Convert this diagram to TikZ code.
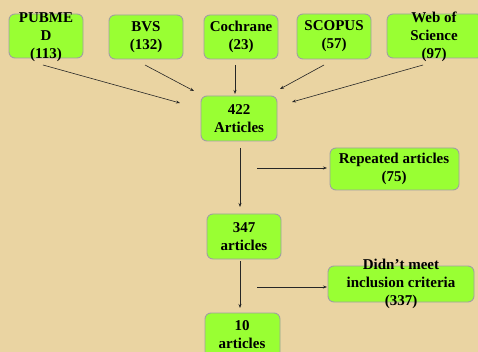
\documentclass[tikz,border=0pt]{standalone}
\usepackage{fontspec}
\setmainfont{Liberation Serif}
\usetikzlibrary{arrows.meta}
\definecolor{bg}{HTML}{EAD4A2}
\definecolor{boxgreen}{HTML}{99FF33}
\definecolor{boxline}{HTML}{A0A0A0}
\tikzset{
  box/.style={draw=boxline, fill=boxgreen, line width=0.9pt, rounded corners=6pt, inner sep=0pt},
  txt/.style={align=center, font=\fontsize{15}{18}\selectfont\bfseries, inner sep=0pt},
  arr/.style={-{Stealth[length=4pt,width=3pt]}, line width=0.6pt, black!85}
}
\begin{document}
\begin{tikzpicture}[x=1pt,y=-1pt]
\useasboundingbox (0,0) rectangle (478,352);
\clip (0,0) rectangle (478,352);
\fill[bg] (0,0) rectangle (478,352);
% boxes
\node[box, minimum width=74pt, minimum height=44pt] (pub) at (46,36) {};
\node[box, minimum width=74pt, minimum height=44pt] (bvs) at (146,37) {};
\node[box, minimum width=74pt, minimum height=44pt] (coch) at (241,37) {};
\node[box, minimum width=74pt, minimum height=45pt] (scop) at (334,36.5) {};
\node[box, minimum width=96pt, minimum height=44pt] (wos) at (435,36) {};
\node[box, minimum width=76pt, minimum height=45pt] (a422) at (239,118.5) {};
\node[box, minimum width=129pt, minimum height=42pt] (rep) at (394.5,169) {};
\node[box, minimum width=74pt, minimum height=45pt] (a347) at (244,236.5) {};
\node[box, minimum width=146pt, minimum height=36pt] (dnm) at (401,284) {};
\node[box, minimum width=75pt, minimum height=46pt] (a10) at (242.5,336) {};
% texts
\node[txt] (pubt) at (46,37.5) {PUBME\\D\\(113)};
\node[txt] (bvst) at (146,37) {BVS\\(132)};
\node[txt] (cocht) at (241,37) {Cochrane\\(23)};
\node[txt] (scopt) at (334,36) {SCOPUS\\(57)};
\node[txt] (wost) at (434,37) {Web of\\Science\\(97)};
\node[txt] (a422t) at (239,119) {422\\Articles};
\node[txt] (rept) at (394,169) {Repeated articles\\(75)};
\node[txt] (a347t) at (244,237) {347\\articles};
\node[txt] (dnmt) at (401,284) {Didn’t meet\\inclusion criteria\\(337)};
\node[txt] (a10t) at (242,335) {10\\articles};
% arrow end points
\coordinate (p1s) at (43,65);   \coordinate (p1e) at (180,103);
\coordinate (p2s) at (145,65);  \coordinate (p2e) at (194,91);
\coordinate (p3s) at (235,65);  \coordinate (p3e) at (235,94);
\coordinate (p4s) at (324,65);  \coordinate (p4e) at (280,89);
\coordinate (p5s) at (423,65);  \coordinate (p5e) at (292,102);
\coordinate (d1s) at (240,148); \coordinate (d1e) at (240,207);
\coordinate (r1s) at (257,168); \coordinate (r1e) at (327,168);
\coordinate (d2s) at (240,261); \coordinate (d2e) at (240,308);
\coordinate (r2s) at (257,287); \coordinate (r2e) at (327,287);
\draw[arr] (p1s) -- (p1e);
\draw[arr] (p2s) -- (p2e);
\draw[arr] (p3s) -- (p3e);
\draw[arr] (p4s) -- (p4e);
\draw[arr] (p5s) -- (p5e);
\draw[arr] (d1s) -- (d1e);
\draw[arr] (r1s) -- (r1e);
\draw[arr] (d2s) -- (d2e);
\draw[arr] (r2s) -- (r2e);
\end{tikzpicture}
\end{document}
